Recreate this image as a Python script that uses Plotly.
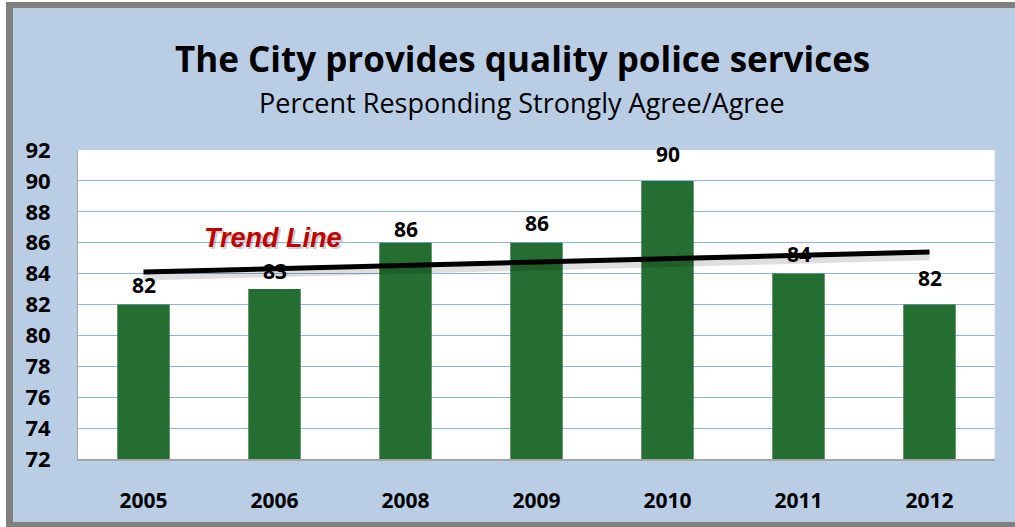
import plotly.graph_objects as go

years = ["2005", "2006", "2008", "2009", "2010", "2011", "2012"]
values = [82, 83, 86, 86, 90, 84, 82]
trend_years = ["2005", "2012"]
trend_values = [84.1, 85.4]
y_ticks = [72, 74, 76, 78, 80, 82, 84, 86, 88, 90, 92]

label_shift = [20, 18, 14, 20, 27, 20, 27]

W, H = 1015, 527
L, R, T, B = 78, 20, 150, 68
pw, ph = W - L - R, H - T - B

def px(x):
    return (x - L) / pw

def py(y):
    return (H - B - y) / ph

BG = "#B9CDE5"
GRID = "#8EB4E3"
BAR = "#236E30"
FONT = "Open Sans, Noto Sans, sans-serif"

fig = go.Figure()

# trend shadow
fig.add_trace(go.Scatter(
    x=trend_years, y=[v - 0.22 for v in trend_values], mode="lines",
    line=dict(color="rgba(0,0,0,0.13)", width=10), hoverinfo="skip", showlegend=False))

fig.add_trace(go.Bar(
    x=years, y=values, marker=dict(color=BAR, line=dict(width=0)),
    width=0.4, showlegend=False))

fig.add_trace(go.Scatter(
    x=trend_years, y=trend_values, mode="lines",
    line=dict(color="black", width=5), showlegend=False))

annotations = []
for i, (v, s) in enumerate(zip(values, label_shift)):
    annotations.append(dict(
        xref="x", yref="y", x=i, y=v, text=str(v), showarrow=False, yshift=s, yanchor="middle",
        font=dict(family=FONT, size=21, color="black", weight="bold")))

annotations.append(dict(
    xref="paper", yref="paper", x=px(522), y=py(58), text="The City provides quality police services",
    showarrow=False, xanchor="center", yanchor="middle",
    font=dict(family=FONT, size=35, color="black", weight="bold")))
annotations.append(dict(
    xref="paper", yref="paper", x=px(522), y=py(102), text="Percent Responding Strongly Agree/Agree",
    showarrow=False, xanchor="center", yanchor="middle",
    font=dict(family=FONT, size=27, color="black")))
# Trend Line label with shadow
annotations.append(dict(
    xref="paper", yref="paper", x=px(275), y=py(240), text="<i><b>Trend Line</b></i>",
    showarrow=False, xanchor="center", yanchor="middle",
    font=dict(family="Liberation Sans Narrow, Liberation Sans, Arial", size=27, color="rgba(0,0,0,0.2)")))
annotations.append(dict(
    xref="paper", yref="paper", x=px(273), y=py(238), text="<i><b>Trend Line</b></i>",
    showarrow=False, xanchor="center", yanchor="middle",
    font=dict(family="Liberation Sans Narrow, Liberation Sans, Arial", size=27, color="#C00000")))

shapes = [
    dict(type="rect", xref="paper", yref="paper", x0=px(0), x1=px(6), y0=py(527), y1=py(0),
         fillcolor="white", line=dict(width=0), layer="above"),
    dict(type="rect", xref="paper", yref="paper", x0=px(0), x1=px(1015), y0=py(2), y1=py(0),
         fillcolor="white", line=dict(width=0), layer="above"),
    dict(type="rect", xref="paper", yref="paper", x0=px(6), x1=px(13), y0=py(527), y1=py(2),
         fillcolor="#808080", line=dict(width=0), layer="above"),
    dict(type="rect", xref="paper", yref="paper", x0=px(6), x1=px(1015), y0=py(8), y1=py(2),
         fillcolor="#808080", line=dict(width=0), layer="above"),
    dict(type="rect", xref="paper", yref="paper", x0=px(6), x1=px(1015), y0=py(527), y1=py(522),
         fillcolor="#808080", line=dict(width=0), layer="above"),
    dict(type="line", xref="paper", yref="paper", x0=1, x1=1, y0=0, y1=1,
         line=dict(color="#D0D8E4", width=1), layer="above"),
]

fig.update_layout(
    width=W, height=H,
    margin=dict(l=L, r=R, t=T, b=B, pad=0),
    paper_bgcolor=BG, plot_bgcolor="white",
    bargap=0.6,
    annotations=annotations, shapes=shapes,
    xaxis=dict(type="category", categoryorder="array", categoryarray=years,
               range=[-0.5, 6.5], showgrid=False, showline=True, linecolor="#A6A6A6", linewidth=2,
               ticks="", ticklabelstandoff=22, zeroline=False,
               tickfont=dict(family=FONT, size=21, color="black", weight="bold")),
    yaxis=dict(range=[72, 92], tickvals=y_ticks, showgrid=True, gridcolor=GRID, gridwidth=1,
               showline=True, linecolor="#A6A6A6", linewidth=1, ticks="", zeroline=False,
               ticklabelstandoff=22,
               tickfont=dict(family=FONT, size=22, color="black", weight="bold")),
)

fig.write_html("out.html", config={"displayModeBar": False},
               post_script="document.body.style.margin='0';document.body.style.overflow='hidden';")
